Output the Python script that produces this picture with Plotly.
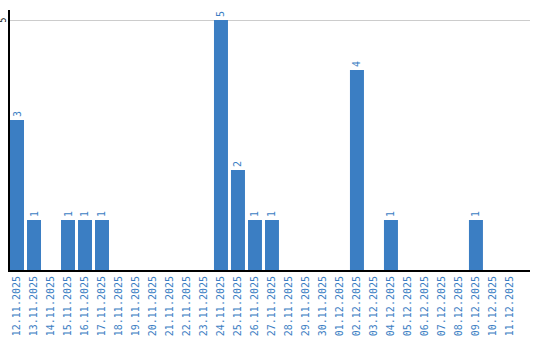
import plotly.graph_objects as go

dates = ["12.11.2025","13.11.2025","14.11.2025","15.11.2025","16.11.2025","17.11.2025",
         "18.11.2025","19.11.2025","20.11.2025","21.11.2025","22.11.2025","23.11.2025",
         "24.11.2025","25.11.2025","26.11.2025","27.11.2025","28.11.2025","29.11.2025",
         "30.11.2025","01.12.2025","02.12.2025","03.12.2025","04.12.2025","05.12.2025",
         "06.12.2025","07.12.2025","08.12.2025","09.12.2025","10.12.2025","11.12.2025"]
counts = [3,1,0,1,1,1,0,0,0,0,0,0,5,2,1,1,0,0,0,0,4,0,1,0,0,0,0,1,0,0]
y_ticks = [5]

blue = "#3b7ec3"
font = "DejaVu Sans Mono"
labels = [str(v) if v > 0 else "" for v in counts]

fig = go.Figure(go.Bar(
    x=list(range(len(dates))), y=counts,
    marker=dict(color=blue, line=dict(width=0)),
    width=14/17,
    text=labels, textposition="outside", textangle=-90,
    textfont=dict(family=font, size=10, color=blue),
    cliponaxis=False,
))

for t in y_ticks:
    fig.add_annotation(x=0, xref="paper", y=t, yref="y", text=str(t),
                       showarrow=False, textangle=-90, xanchor="right",
                       yanchor="middle", xshift=-1,
                       font=dict(family=font, size=8, color="black"))

fig.update_layout(
    width=540, height=340,
    margin=dict(l=10, r=10, t=10, b=70),
    plot_bgcolor="white", paper_bgcolor="white",
    showlegend=False,
    xaxis=dict(
        tickmode="array", tickvals=list(range(len(dates))), ticktext=dates,
        tickangle=-90, tickfont=dict(family=font, size=10, color=blue),
        range=[-0.412, 30.18], showgrid=False, zeroline=False,
        showline=True, linecolor="black", linewidth=2, ticks="", automargin=False,
    ),
    yaxis=dict(
        range=[0, 5.2], tickmode="array", tickvals=y_ticks, showticklabels=False,
        showgrid=True, gridcolor="#cccccc", gridwidth=1, zeroline=False,
        showline=True, linecolor="black", linewidth=2, ticks="", automargin=False,
    ),
)

fig.write_html("out.html")
